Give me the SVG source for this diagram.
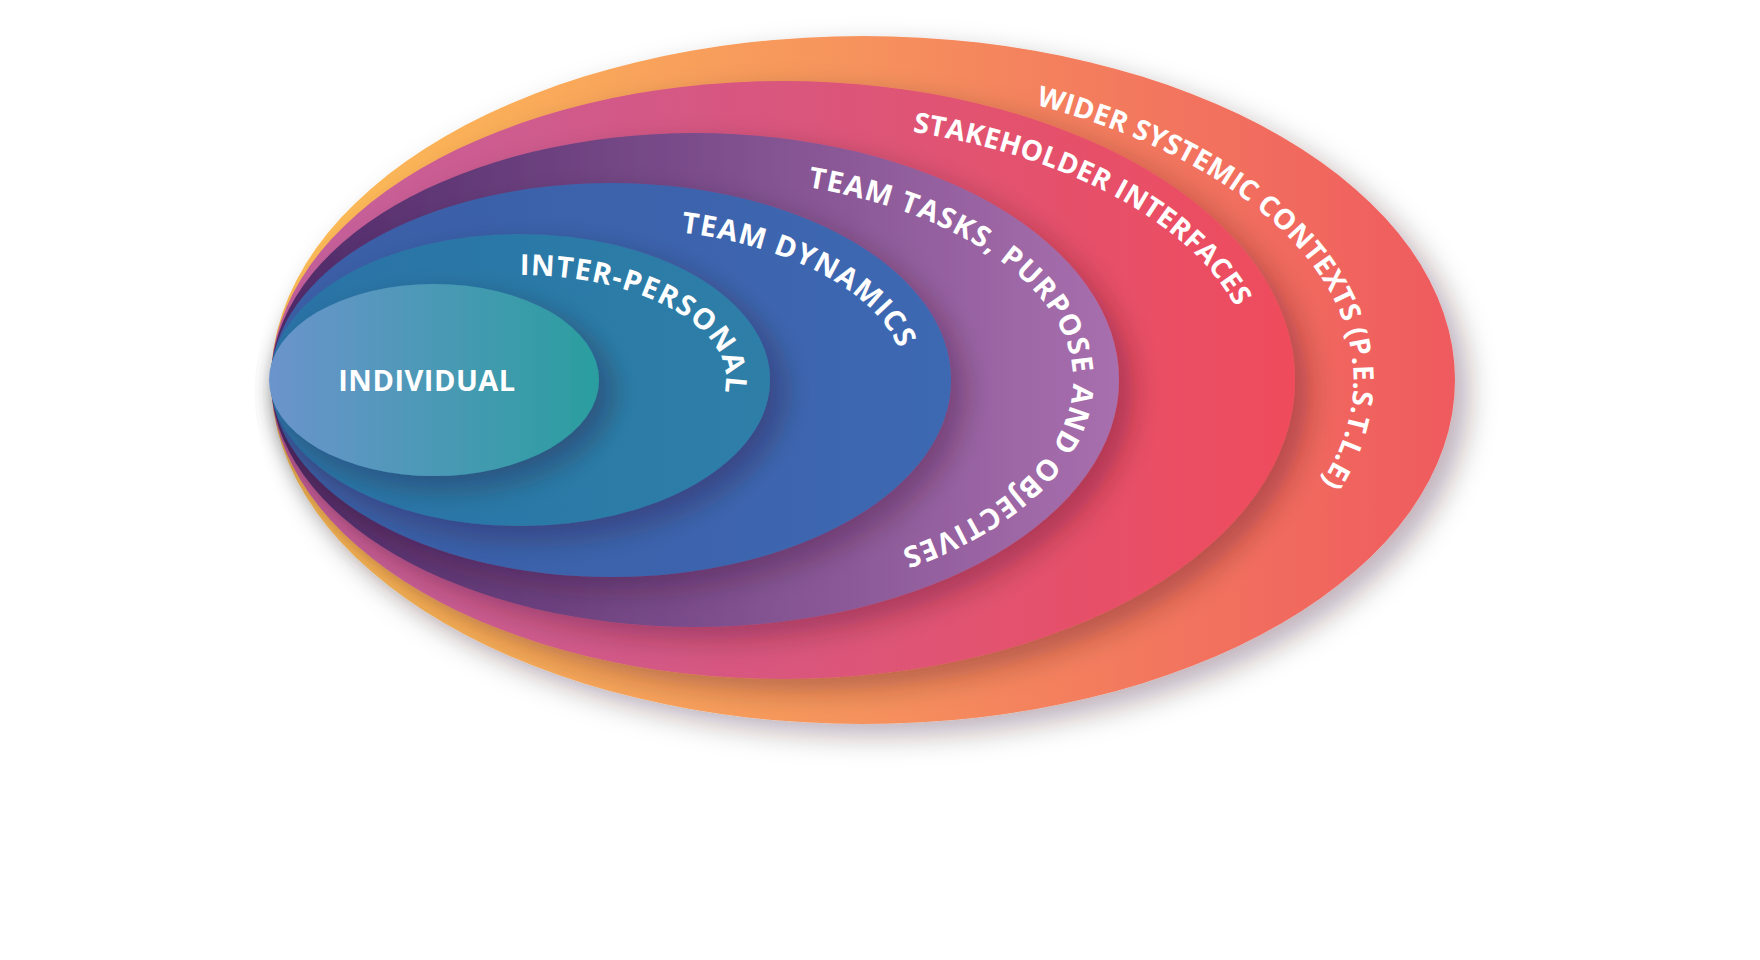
<svg xmlns="http://www.w3.org/2000/svg" width="1760" height="960" viewBox="0 0 1760 960">
<defs>
<linearGradient id="g1" x1="0" x2="1" y1="0" y2="0"><stop offset="0" stop-color="#fdbf57"/><stop offset="0.5" stop-color="#f6925d"/><stop offset="1" stop-color="#ef5a5e"/></linearGradient>
<linearGradient id="g2" x1="0" x2="1" y1="0" y2="0"><stop offset="0" stop-color="#c4609e"/><stop offset="1" stop-color="#ef4c5c"/></linearGradient>
<linearGradient id="g3" x1="0" x2="1" y1="0" y2="0"><stop offset="0" stop-color="#4f2a68"/><stop offset="1" stop-color="#a86fae"/></linearGradient>
<linearGradient id="g4" x1="0" x2="1" y1="0" y2="0"><stop offset="0" stop-color="#3a5ea6"/><stop offset="1" stop-color="#3d68b2"/></linearGradient>
<linearGradient id="g5" x1="0" x2="1" y1="0" y2="0"><stop offset="0" stop-color="#2b72a6"/><stop offset="1" stop-color="#2d7fa8"/></linearGradient>
<linearGradient id="g6" x1="0" x2="1" y1="0" y2="0"><stop offset="0" stop-color="#6b94cc"/><stop offset="1" stop-color="#2a9e9f"/></linearGradient>
<filter id="sh" x="-20%" y="-20%" width="140%" height="150%"><feDropShadow dx="14" dy="12" stdDeviation="14" flood-color="#2a1020" flood-opacity="0.3"/></filter>
<path id="p1" d="M863,78 A554,304 0 0 1 863,682"/>
<path id="p2" d="M783,122 A472,258 0 0 1 783,638"/>
<path id="p3" d="M695,178 A378,202 0 0 1 695,582"/>
<path id="p4" d="M611,228 A294,152 0 0 1 611,532"/>
<path id="p5" d="M520,275 A206,105 0 0 1 520,485"/>
</defs>
<style>
text{font-family:"Open Sans","Liberation Sans",sans-serif;font-weight:700;font-size:29px;letter-spacing:1.2px;fill:#fff}
.o{font-size:28px;letter-spacing:0.3px}
</style>
<g id="wider"><ellipse cx="863" cy="380" rx="592" ry="344" fill="url(#g1)" filter="url(#sh)"/></g>
<g id="stakeholder"><ellipse cx="783" cy="380" rx="512" ry="299" fill="url(#g2)" filter="url(#sh)"/></g>
<g id="tasks"><ellipse cx="695" cy="380" rx="424" ry="247" fill="url(#g3)" filter="url(#sh)"/></g>
<g id="dynamics"><ellipse cx="611" cy="380" rx="340" ry="197" fill="url(#g4)" filter="url(#sh)"/></g>
<g id="interpersonal"><ellipse cx="520" cy="380" rx="250" ry="146" fill="url(#g5)" filter="url(#sh)"/></g>
<g id="individual"><ellipse cx="434" cy="380" rx="165" ry="96" fill="url(#g6)" filter="url(#sh)"/>
<text x="427" y="391" text-anchor="middle" style="letter-spacing:0.5px">INDIVIDUAL</text></g>
<g id="labels">
<text class="o"><textPath href="#p1" startOffset="175">WIDER SYSTEMIC CONTEXTS (P.E.S.T.L.E)</textPath></text>
<text class="o"><textPath href="#p2" startOffset="130">STAKEHOLDER INTERFACES</textPath></text>
<text><textPath href="#p3" startOffset="113">TEAM TASKS, PURPOSE AND OBJECTIVES</textPath></text>
<text><textPath href="#p4" startOffset="70">TEAM DYNAMICS</textPath></text>
<text><textPath href="#p5" startOffset="0">INTER-PERSONAL</textPath></text>
</g>
</svg>
